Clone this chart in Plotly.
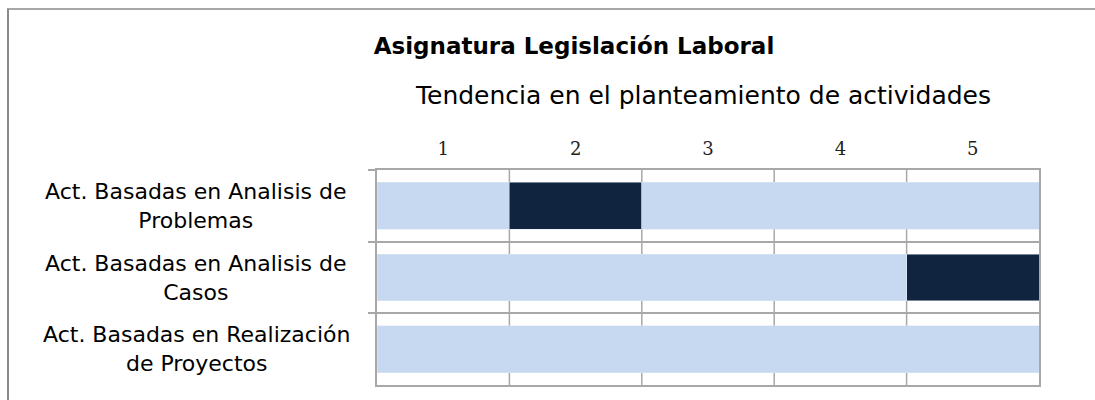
import plotly.graph_objects as go

# ---- data ----
categories = [
    "Act. Basadas en Analisis de<br>Problemas",
    "Act. Basadas en Analisis de<br>Casos",
    "Act. Basadas en Realización<br>de Proyectos",
]
# stacked segments (Excel-style): light, dark, light
seg_a = [1, 4, 5]   # light blue
seg_b = [1, 1, 0]   # dark navy (marked level)
seg_c = [3, 0, 0]   # light blue remainder
tick_vals = [0.5, 1.5, 2.5, 3.5, 4.5]
tick_text = ["1", "2", "3", "4", "5"]
title_text = "Asignatura Legislación Laboral"
subtitle_text = "Tendencia en el planteamiento de actividades"

LIGHT = "#C6D9F1"
DARK = "#10243F"
GRID = "#a8a8a8"
FONT = "DejaVu Sans"

fig = go.Figure()
for vals, col in [(seg_a, LIGHT), (seg_b, DARK), (seg_c, LIGHT)]:
    fig.add_trace(go.Bar(
        x=vals, y=categories, orientation="h",
        marker=dict(color=col, line=dict(width=0.5, color="#dde7f3")),
        showlegend=False, hoverinfo="skip",
    ))

W, H = 1095, 400
L, R, T, B = 377, 56, 170, 15
pw, ph = W - L - R, H - T - B

def px_x(px):
    return (px - L) / pw

def px_y(py):
    return (H - B - py) / ph

fig.update_layout(
    width=W, height=H,
    barmode="stack", bargap=0.345,
    margin=dict(l=L, r=R, t=T, b=B, autoexpand=False),
    paper_bgcolor="white", plot_bgcolor="white",
    font=dict(family=FONT, color="black"),
    title=dict(text="<b>" + title_text + "</b>", x=574 / W, xanchor="center",
               y=1 - 46 / H, yanchor="middle",
               font=dict(family=FONT, size=23, color="black")),
    xaxis=dict(
        side="top", range=[0, 5], tickmode="array",
        tickvals=tick_vals, ticktext=tick_text, ticks="",
        showgrid=False, zeroline=False,
        showline=True, linecolor=GRID, linewidth=1.5, mirror=True,
        tickfont=dict(family="DejaVu Serif", size=18, color="#222"),
        ticklabelstandoff=6,
        fixedrange=True,
    ),
    yaxis=dict(
        type="category", categoryorder="array", categoryarray=categories,
        autorange="reversed", tickson="boundaries",
        ticks="outside", ticklen=7, tickcolor=GRID, tickwidth=1.5,
        showticklabels=False,
        showgrid=True, gridcolor=GRID, gridwidth=1.5,
        showline=True, linecolor=GRID, linewidth=1.5, mirror=True,
        fixedrange=True,
    ),
)

# vertical gridlines at category boundaries of the top axis (behind the bars)
for v in [1, 2, 3, 4]:
    fig.add_shape(type="line", xref="x", yref="paper", x0=v, x1=v, y0=0, y1=1,
                  line=dict(color=GRID, width=1.5), layer="below")

# row labels, centred
for c in categories:
    fig.add_annotation(text=c, xref="paper", yref="y", x=px_x(196), y=c,
                       xanchor="center", yanchor="middle", align="center",
                       showarrow=False, font=dict(family=FONT, size=22, color="black"))

# axis title (subtitle)
fig.add_annotation(text=subtitle_text, xref="paper", yref="paper",
                   x=px_x(703), y=px_y(96), xanchor="center", yanchor="middle",
                   showarrow=False, font=dict(family=FONT, size=25, color="black"))

# outer chart border (left and top)
fig.add_shape(type="line", xref="paper", yref="paper",
              x0=px_x(8), x1=px_x(8), y0=px_y(9), y1=px_y(401),
              line=dict(color="#8a8a8a", width=2))
fig.add_shape(type="line", xref="paper", yref="paper",
              x0=px_x(7), x1=px_x(1096), y0=px_y(9), y1=px_y(9),
              line=dict(color="#8a8a8a", width=1.5))

fig.write_html("out.html", config={"displayModeBar": False},
               post_script="document.body.style.margin='0';document.body.style.overflow='hidden';")
